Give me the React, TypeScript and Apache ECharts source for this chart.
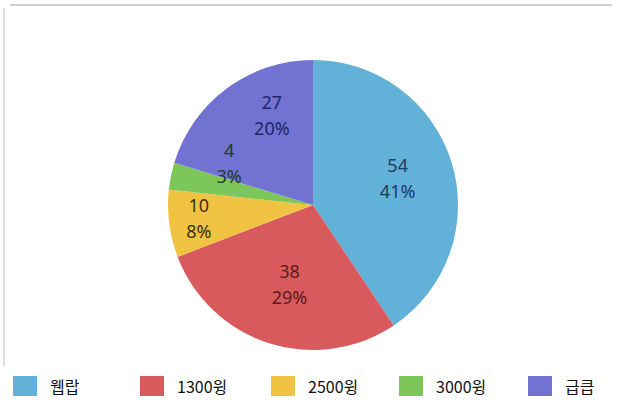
import React, { useEffect, useRef } from "react";
import * as echarts from "echarts";

const categories = ["웹랍", "1300윙", "2500윙", "3000윙", "급큽"];
const values = [54, 38, 10, 4, 27];
const percents = ["41%", "29%", "8%", "3%", "20%"];

// styling (kept apart from the data)
const sliceColors = ["#62b1d9", "#d95a5c", "#f1c342", "#7cc65a", "#7172d1"];
const labelColors = ["#1d3c5c", "#5a1c1e", "#3d3212", "#1f3a24", "#1e2766"];
const labelNudges = [[-12, 2], [7, -17], [-14, 0], [15, -22], [19, -9]];
const legendLefts = [13, 140, 271, 399, 528];

export default function App() {
  const ref = useRef<HTMLDivElement>(null);
  useEffect(() => {
    if (!ref.current) return;
    const chart = echarts.init(ref.current, undefined, { renderer: "svg" });
    const data = categories.map((name, i) => ({
      name,
      value: values[i],
      itemStyle: { color: sliceColors[i] },
    }));
    const labelData = categories.map((name, i) => ({
      name,
      value: values[i],
      label: { color: labelColors[i], offset: labelNudges[i] },
    }));
    chart.setOption({
      animation: false,
      backgroundColor: "#ffffff",
      graphic: [
        { type: "line", shape: { x1: 10, y1: 5, x2: 612, y2: 5 }, style: { stroke: "#cfcfcf", lineWidth: 2 } },
        { type: "line", shape: { x1: 4, y1: 8, x2: 4, y2: 366 }, style: { stroke: "#d4d4d4", lineWidth: 1.5 } },
      ],
      legend: categories.map((name, i) => ({
        data: [name],
        left: legendLefts[i],
        top: 376,
        padding: 0,
        itemWidth: 24,
        itemHeight: 20,
        itemGap: 0,
        icon: "rect",
        selectedMode: false,
        textStyle: {
          fontFamily: "Noto Sans CJK KR",
          fontSize: 16,
          color: "#111",
          padding: [0, 0, 0, 8],
        },
      })),
      series: [
        {
          type: "pie",
          center: [313, 205],
          radius: 145,
          startAngle: 90,
          clockwise: true,
          label: { show: false },
          labelLine: { show: false },
          itemStyle: { borderWidth: 0 },
          emphasis: { disabled: true },
          data,
        },
        {
          type: "pie",
          center: [313, 205],
          radius: 196,
          startAngle: 90,
          clockwise: true,
          silent: true,
          avoidLabelOverlap: false,
          minShowLabelAngle: 0,
          legendHoverLink: false,
          itemStyle: { color: "rgba(0,0,0,0)", borderWidth: 0 },
          emphasis: { disabled: true },
          labelLine: { show: false },
          labelLayout: { hideOverlap: false },
          label: {
            show: true,
            position: "inside",
            fontFamily: "Noto Sans",
            fontSize: 18,
            lineHeight: 26,
            formatter: (p: any) => `${p.value}\n${percents[p.dataIndex]}`,
          },
          data: labelData,
        },
      ],
    });
    return () => chart.dispose();
  }, []);
  return (
    <div
      ref={ref}
      style={{ position: "fixed", left: 0, top: 0, width: 618, height: 405 }}
    />
  );
}
